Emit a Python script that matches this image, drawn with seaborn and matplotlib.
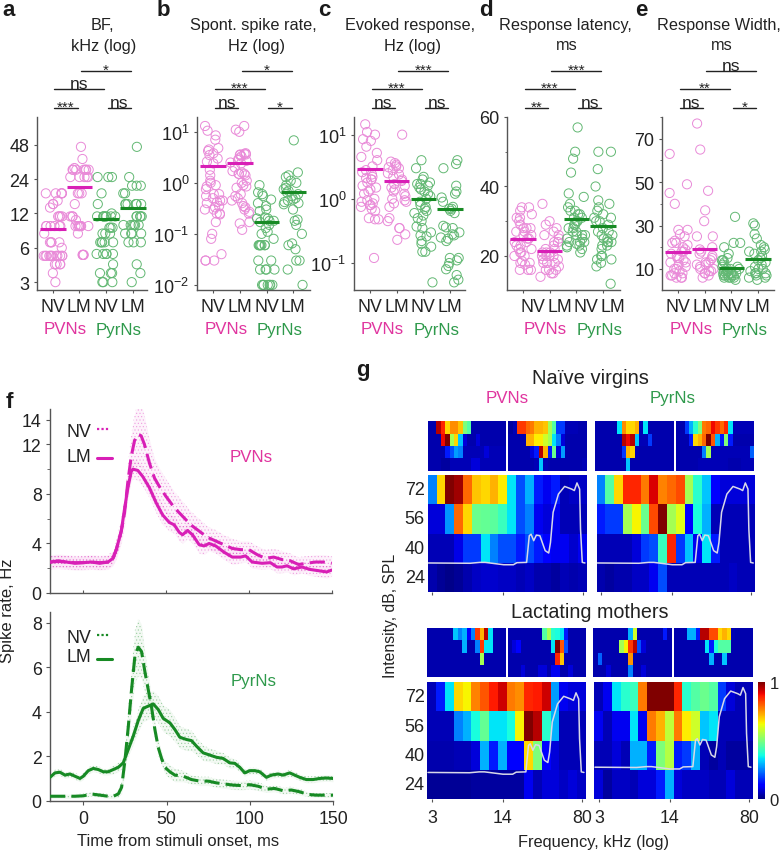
import numpy as np
import pandas as pd
import matplotlib
matplotlib.use("Agg")
import matplotlib.pyplot as plt
from matplotlib.lines import Line2D
from matplotlib.transforms import ScaledTranslation
import seaborn as sns

# ---------- scatter panels ----------
a_pv_nv = [3,3.6,4.3,4.3,4.3,4.3]+[5.1]*12+[6,6.7,6.7,6.7,6.7,8]+[9.3]*6+[11.3]*4+[13.5,14.5,14.5,15.5]+[18]*5
a_pv_lm = [5.2]*4+[8]+[9.3]*8+[10.5,11.3,11.3,11.3,14.5,18,18,18]+[25]*5+[29]*7+[30,36,46]
a_py_nv = [3,3,3,3.6,3.6,3.6,4.3]+[5.3]*5+[6.7]*5+[8,8,8,9,9,9]+[11.3]*8+[12,14.5,18,25,25,25]
a_py_lm = [3,3.6,4.3,6.7,6.7,6.7,8,8,8,8]+[9.5]*6+[11.3]*5+[14.5]*7+[18,18,21,21,21,25,46]
a_means = [8.7,20.6,10.7,13.4]

b_pv_nv = [.03,.03,.03,.04,.08,.1,.17,.24,.25,.25,.3,.3,.33,.35,.4,.42,.45,.45,.5,.55,.6,.6,.75,.85,.9,1,1.1,1.4,1.8,2.4,2.6,3,3.5,3.8,4.2,4.5,4.8,7,8.5,10.5,13]
b_pv_lm = [.12,.16,.17,.25,.27,.3,.33,.35,.4,.45,.5,.55,.6,.8,.85,.9,1.0,1.1,1.4,1.5,1.5,1.5,1.6,1.7,2.0,2.4,2.5,2.7,2.8,3,3.3,3.5,3.6,3.6,3.7,3.8,10,11,13]
b_py_nv = [.01]*7+[.02]*4+[.03,.03]+[.06]*7+[.08,.1,.11,.13,.15,.17,.18,.18,.2,.2,.21,.28,.3,.35,.4,.47,.55,.6,.65,.9]
b_py_lm = [.01,.02,.03,.03,.05,.06,.065,.1,.15,.18,.19,.3,.38,.4,.42,.45,.47,.5,.55,.6,.65,.7,.75,.8,.9,1.0,1.1,1.3,1.4,1.6,6.8]
b_means = [2.1,2.4,.17,.65]

c_pv_nv = [.12,.48,.48,.5,.65,.7,.75,.8,.8,.85,.9,.95,1,1.2,1.3,1.4,1.5,1.6,1.8,2,2,2.1,2.2,2.4,2.6,2.8,3.2,4,4.5,5.2,6.5,8,8.5,10,11,14.5]
c_pv_lm = [.23,.28,.35,.35,.45,.5,.75,.85,.9,.95,1,1.1,1.2,1.3,1.4,1.5,1.6,1.7,1.9,2,2.2,2.4,2.5,2.8,3,3.1,3.2,3.4,3.6,3.8,10]
c_py_nv = [.05,.15,.15,.18,.2,.22,.26,.27,.3,.35,.37,.45,.5,.55,.6,.65,.7,.75,.8,.9,1,1.1,1.2,1.3,1.4,1.5,1.6,1.7,1.7,1.8,2,2.2,3,4]
c_py_lm = [.05,.055,.065,.08,.09,.1,.11,.12,.12,.22,.24,.25,.27,.28,.3,.35,.36,.38,.6,.65,.7,.7,.75,.9,1.05,1.2,1.3,1.6,3,3.5,4]
c_means = [2.9,1.9,1.0,.7]

d_pv_nv = [16,16,16,17.5,18,18,18.5,20,20,21,21,22,22,23,23,24,24,25,25,26,26,27,27,28,28,28,29,30,31,31,32,33,34,34]
d_pv_lm = [14,15,15,16,16,16,17,18,18,18,19,19,20,20,20,20,21,21,21,22,22,23,24,24,25,26,26,27,28,29,30,35]
d_py_nv = [21,22,22.5,23,23,23.5,24,24,24,25,25,26,26,26,27,27,28,28,29,29,30,30,31,31,32,32,33,33,34,35,37,38,44,48,50,57]
d_py_lm = [12,17,18,19,19,20,20,22,23,23,24,24,24,25,25,26,26,27,27,28,29,30,30,31,31,32,33,34,35,36,40,45,50,50]
d_means = [24.8,21.3,30.5,28.5]

e_pv_nv = [6,6,6,7,7,8,8,9,10,10,11,12,13,13,14,15,15,16,17,18,18,19,20,21,22,22,23,25,26,28,28,40,45,49,63]
e_pv_lm = [6,7,8,8,9,9,10,10,11,12,12,13,13,14,15,16,17,18,19,20,25,25,32,37,46,65,77]
e_py_nv = [5,6,6,6,6,7,7,7,7,7,8,8,8,8,9,9,9,10,10,10,11,11,12,13,14,14,15,17,20,22,22,34]
e_py_lm = [5,6,6,7,7,8,8,8,9,10,10,11,12,13,14,15,16,17,18,18,19,20,21,24,26,30,31]
e_means = [18,19,10.5,14.5]

group_ticks = ["NV", "LM", "NV", "LM"]
group_ids = ["PV NV", "PV LM", "Pyr NV", "Pyr LM"]

# ---------- spike-rate curves ----------
t_base = [-20,-15,-10,-5,0,5,10,15]
t_pv_lm = t_base+[18,20,23,25,27,29,30,33,36,40,44,48,52,55,58,60,63,66,70,73,76,80,85,90,95,98,102,108,113,117,120,123,127,132,137,142,147,150]
pv_lm = [2.5,2.6,2.5,2.4,2.45,2.5,2.4,2.5,2.8,3.5,5,6.8,8.5,9.8,10,9.9,9.4,8.5,7.3,6.3,5.7,5.5,4.9,4.7,5.05,4.7,3.9,3.8,4,3.8,3.3,2.9,2.9,3,2.5,2.4,2.45,2.1,2.1,2.2,1.95,2.1,1.9,1.8,1.7,1.85]
t_pv_nv = t_base+[18,20,23,25,27,29,31,33,35,37,40,43,46,50,55,60,65,70,75,80,85,90,95,100,105,110,115,120,125,130,135,140,145,150]
pv_nv = [2.5,2.55,2.5,2.45,2.45,2.5,2.45,2.5,2.8,3.5,5,6.5,9,11,12.3,12.8,12.7,12,10.5,9.3,8.6,7.8,6.9,6.2,5.5,5,4.5,4.2,3.9,3.6,3.5,3.5,3.1,2.8,2.9,2.7,2.6,2.3,2.4,2.5,2.5,2.4]
pv_nv_err = [.6,.6,.6,.6,.6,.6,.6,.6,.6,.8,1,1.2,1.3,1.8,2.2,2.5,2.6,2.3,1.9,1.6,1.5,1.4,1.3,1.2,1.1,1,.9,.9,.8,.8,.7,.7,.7,.7,.7,.7,.6,.6,.6,.6,.6,.6]
pv_lm_err = [.5,.5,.5,.5,.5,.5,.5,.5,.5,.6,.7,.8,.8,.8,.8,.8,.8,.8,.8,.8,.7,.7,.7,.7,.7,.7,.7,.7,.6,.6,.6,.6,.5,.5,.5,.5,.5,.5,.5,.5,.5,.5,.5,.5,.5,.5]

t_py_lm = [-20,-17,-14,-11,-8,-5,-2,0,3,6,9,12,15,18,21,24,27,30,33,36,39,42,45,48,52,55,58,62,65,68,72,76,80,84,88,91,94,97,100,103,106,110,113,117,120,124,127,130,134,138,142,146,150]
py_lm = [1.05,1.25,1.28,1.15,1.2,1.1,1.0,1.1,1.35,1.45,1.4,1.3,1.3,1.4,1.5,1.7,2.3,2.9,3.6,4.15,4.25,4.35,4.1,3.7,3.5,3.2,2.85,2.75,2.7,2.45,2.15,2.05,1.95,1.9,1.7,1.68,1.5,1.25,1.35,1.35,1.3,1.05,1.15,1.2,1.15,1.25,1.15,1.05,.95,.95,1.0,1.02,1.0]
py_lm_err = [.15,.15,.15,.15,.15,.15,.15,.15,.15,.15,.15,.15,.15,.2,.2,.25,.3,.4,.5,.6,.6,.6,.6,.6,.6,.55,.5,.5,.45,.4,.35,.3,.3,.25,.25,.2,.2,.15,.15,.15,.15,.15,.15,.15,.15,.15,.15,.15,.15,.15,.15,.15,.15]
t_py_nv = [-20,-15,-10,-5,0,5,10,15,18,21,23,25,27,29,31,33,35,37,39,41,43,45,47,49,52,55,60,65,70,75,80,85,90,95,100,105,110,115,120,125,130,135,140,150]
py_nv = [.2,.2,.2,.2,.22,.3,.25,.2,.2,.3,.6,1.8,3.3,5,6.5,6.9,6.7,5.8,5,4.2,3.2,2.4,1.9,1.5,1.3,1.15,1.1,.95,.88,.88,.8,.75,.7,.68,.72,.65,.52,.55,.45,.48,.4,.28,.25,.25]
py_nv_err = [.1,.1,.1,.1,.1,.1,.1,.1,.1,.15,.3,.6,.9,1,1.2,1.3,1.2,.9,.7,.5,.4,.35,.3,.3,.3,.3,.25,.2,.2,.2,.2,.2,.2,.2,.2,.2,.15,.15,.15,.15,.15,.1,.1,.1]

# ---------- response maps (percent of maximum, loudest row first) ----------
intensity_db = [72, 56, 40, 24]
nv_pv_large = [[25,68,100,97,80,70,68,72,66,35,20,30,15,10,15,5,6,6],
               [8,8,27,80,68,48,47,46,42,35,20,25,10,8,10,5,5,5],
               [5,5,5,9,18,18,35,25,20,20,15,20,15,12,10,10,7,10],
               [4,2,1,2,4,6,7,7,6,6,5,6,4,4,3,5,4,5]]
nv_py_large = [[25,45,68,87,87,78,92,77,80,83,55,40,32,12,8,8,8,8],
               [15,18,18,55,65,48,83,100,55,62,12,38,30,5,5,5,5,5],
               [5,5,5,5,8,18,20,42,87,18,32,10,35,15,5,5,5,5],
               [4,3,4,4,6,6,10,20,5,5,5,5,5,5,5,6,5,5]]
lm_pv_large = [[5,15,35,68,65,77,82,88,93,78,76,87,88,93,28,10,8,8],
               [5,5,5,25,30,38,47,35,35,38,65,100,95,40,30,5,5,5],
               [4,4,4,5,5,8,30,15,30,12,12,68,50,12,8,5,5,5],
               [2,2,2,2,2,3,3,3,3,3,3,10,5,8,8,6,8,6]]
lm_py_large = [[5,10,35,40,42,78,100,100,100,87,40,45,48,45,18,8,5,5],
               [10,5,10,10,35,10,78,72,58,78,66,60,32,35,5,5,5,5],
               [5,5,8,5,30,30,15,50,57,15,18,30,5,3,5,3,3,3],
               [8,3,6,6,5,8,8,15,30,8,6,6,6,5,5,8,5,5]]
nv_pv_s1 = [[4,4,95,87,68,76,76,70,50,45,4,4,4,4,4,4,4,4],
            [4,4,4,90,100,55,68,32,8,4,4,8,4,4,4,4,4,4],
            [4,4,4,4,15,20,28,25,5,5,5,5,5,8,5,5,5,5],
            [4,4,4,3,3,5,5,5,5,5,8,8,5,5,5,5,5,5]]
nv_pv_s2 = [[3,5,85,85,80,78,72,72,70,55,45,18,18,5,5,5,4,4],
            [4,4,4,4,72,72,66,66,60,55,35,25,8,4,4,4,4,4],
            [4,4,4,4,4,8,15,95,72,15,48,8,28,4,4,4,4,4],
            [4,4,4,4,4,4,5,32,5,4,4,4,4,4,4,4,4,5]]
nv_py_s1 = [[4,4,4,4,4,35,76,68,68,72,5,35,4,4,4,4,4,4],
            [4,4,4,4,4,4,95,90,95,32,5,5,18,4,4,4,4,4],
            [4,4,4,4,4,4,18,72,68,5,4,4,4,4,4,4,4,4],
            [4,4,4,4,4,4,4,32,4,4,4,4,4,4,4,4,4,4]]
nv_py_s2 = [[4,4,18,30,40,50,78,80,90,85,80,87,35,5,5,5,5,5],
            [4,4,4,15,68,72,80,100,82,30,15,50,15,4,4,4,4,4],
            [4,4,4,4,4,4,25,55,5,5,5,5,5,5,5,5,5,22],
            [4,4,4,4,4,5,5,5,5,5,5,5,4,4,4,5,5,5]]
lm_pv_s1 = [[4,4,4,4,4,4,32,25,30,12,25,85,72,95,35,4,4,4],
            [4,4,4,4,4,4,4,4,30,4,4,25,85,35,35,4,4,4],
            [4,4,4,4,4,4,4,4,4,4,4,4,55,4,4,4,4,4],
            [4,4,4,4,4,4,4,4,4,4,4,4,4,4,4,4,4,4]]
lm_pv_s2 = [[4,4,4,4,4,4,4,4,45,55,40,38,35,15,4,4,4,4],
            [4,8,12,4,4,4,4,4,4,4,35,100,82,20,4,4,4,4],
            [4,4,4,4,4,4,4,4,4,4,4,87,70,4,4,4,4,4],
            [4,4,4,8,4,4,4,8,8,4,10,10,4,4,8,4,4,4]]
lm_py_s1 = [[4,4,4,4,4,4,4,4,30,60,4,4,4,4,4,4,15,4],
            [4,4,4,4,4,4,55,65,85,95,20,8,4,4,4,4,4,4],
            [4,22,4,4,4,4,4,4,75,4,4,4,4,4,4,4,4,4],
            [4,4,4,8,4,4,4,4,25,4,4,8,4,4,4,4,4,4]]
lm_py_s2 = [[4,4,4,30,30,15,95,95,83,83,68,72,68,5,4,4,4,4],
            [4,4,4,4,4,4,4,35,15,38,45,45,45,4,4,4,4,4],
            [4,4,4,4,4,4,4,4,30,4,4,32,4,4,4,4,4,4],
            [4,4,4,4,4,4,4,4,4,4,4,4,4,4,4,4,4,4]]

# audiogram overlay, in map columns and map rows
curve_col = [.08,4.8,5.9,6.5,8.6,9.7,10.1,11.2,11.5,11.7,12.0,12.3,12.7,13.3,13.7,13.9,14.2,14.8,15.5,16.3,16.6,16.9,17.2,17.3,17.5,17.8]
curve_row = [3.0,3.01,2.98,2.98,3.06,3.06,2.99,2.98,2.07,2.02,2.24,2.05,2.07,2.58,2.66,2.3,1.27,.65,.39,.48,.53,.27,.48,1.84,2.98,3.0]
freq_labels = ["3", "14", "80"]
freq_cols = [.53, 8.57, 17.6]

# ---------- style ----------
W, H = 783, 853
MAG, MAG_L, MAG_T = "#d81fb6", "#e98ad8", "#e0359f"
GRN, GRN_L, GRN_T = "#178a24", "#62b873", "#2f9a4c"
AX = "#555555"
sns.set_theme(style="ticks")
plt.rcParams["font.family"] = ["Liberation Sans", "DejaVu Sans"]
plt.rcParams["mathtext.default"] = "regular"
plt.rcParams["hatch.linewidth"] = 0.5
plt.rcParams["axes.edgecolor"] = AX
plt.rcParams["xtick.color"] = AX
plt.rcParams["ytick.color"] = AX
plt.rcParams["xtick.labelcolor"] = "#222222"
plt.rcParams["ytick.labelcolor"] = "#222222"
fig = plt.figure(figsize=(W/100, H/100), dpi=100)


def axpx(x0, y0, x1, y1):
    return fig.add_axes([x0/W, 1-y1/H, (x1-x0)/W, (y1-y0)/H])


def txt(x, y, s, size=11.8, color="#222222", **kw):
    kw.setdefault("ha", "center")
    kw.setdefault("va", "center")
    fig.text(x/W, 1-y/H, s, fontsize=size, color=color, **kw)


def scatter_panel(box, tick0, step, groups, means, ylim, log=False, yticks=None, ylabels=None,
                  minor=None, sig=(), title=(), title_x=(), letter="", letter_x=0, tick_shift=0, group_x=()):
    x0, y0, x1, y1 = box
    ax = axpx(*box)
    if log:
        ax.set_yscale("log")
    df = pd.DataFrame({"group": [g for g, v in zip(group_ids, groups) for _ in v],
                       "value": [u for v in groups for u in v]})
    sns.stripplot(data=df, x="group", y="value", order=group_ids, ax=ax, size=6.6, jitter=.36,
                  linewidth=.7, color="w", zorder=2)
    for i, coll in enumerate(ax.collections):
        coll.set_facecolor("none")
        coll.set_edgecolor(MAG_L if i < 2 else GRN_L)
    ax.hlines(means, np.arange(4)-.48, np.arange(4)+.48, colors=[MAG, MAG, GRN, GRN], lw=2.2, zorder=3)
    ax.set_xlim((x0-tick0)/step, (x1-tick0)/step)
    ax.set_ylim(*ylim)
    ax.set_xlabel("")
    ax.set_ylabel("")
    ax.set_xticks(range(4))
    ax.set_xticklabels(group_ticks, fontsize=12.8)
    ax.set_yticks(yticks)
    ax.set_yticklabels(ylabels, fontsize=13)
    ax.yaxis.set_minor_formatter(matplotlib.ticker.NullFormatter())
    if minor is not None:
        ax.set_yticks(minor, minor=True)
    else:
        ax.minorticks_off()
    ax.tick_params(axis="both", length=2.5, width=.8, pad=3)
    ax.tick_params(axis="x", pad=3)
    ax.tick_params(which="minor", length=1.5, width=.6)
    if tick_shift:
        for lab in ax.get_xticklabels():
            lab.set_transform(lab.get_transform()+ScaledTranslation(tick_shift/100, 0, fig.dpi_scale_trans))
    sns.despine(ax=ax)
    for sp in ax.spines.values():
        sp.set_linewidth(1)
    trans = ax.get_xaxis_transform()
    span = [(0, 1, 109), (2, 3, 109), (0, 2, 90), (1, 3, 72)]
    for (a, b, yy), s in zip(span, sig):
        f = (y1-yy)/(y1-y0)
        ax.plot([a+.06, b-.06], [f, f], transform=trans, clip_on=False, color="#222222", lw=1)
        off = -2 if "*" in s else 1
        ax.annotate(s, xy=((a+b)/2, f), xycoords=trans, xytext=(0, off), textcoords="offset points",
                    ha="center", va="baseline", fontsize=11 if "*" in s else 12.5, color="#222222")
    for s, xx, yy in zip(title, title_x, (25.7, 46)):
        txt(xx, yy, s, 11.7)
    txt(letter_x, 11, letter, 16, color="k", fontweight="bold")
    txt(group_x[0], 330, "PVNs", 12.2, MAG_T)
    txt(group_x[1], 330, "PyrNs", 12.2, GRN_T)


pow_lab = lambda k: rf"$\mathdefault{{10^{{{k}}}}}$"
scatter_panel((37, 118, 147, 291), 52.7, 26.67, [a_pv_nv, a_pv_lm, a_py_nv, a_py_lm], a_means, (2.56, 84), log=True,
              yticks=[3, 6, 12, 24, 48], ylabels=["3", "6", "12", "24", "48"], sig=["***", "ns", "ns", "*"],
              title=["BF,", "kHz (log)"], title_x=[102, 104], letter="a", letter_x=9, group_x=[65, 119])
scatter_panel((197, 118, 310, 291), 213.3, 26.67, [b_pv_nv, b_pv_lm, b_py_nv, b_py_lm], b_means, (10**-2.1, 10**1.29), log=True,
              yticks=[.01, .1, 1, 10], ylabels=[pow_lab(-2), pow_lab(-1), pow_lab(0), pow_lab(1)], sig=["ns", "*", "***", "*"],
              title=["Spont. spike rate,", "Hz (log)"], title_x=[253, 257], letter="b", letter_x=163, group_x=[226, 280])
scatter_panel((354, 118, 465, 291), 370, 26.67, [c_pv_nv, c_pv_lm, c_py_nv, c_py_lm], c_means, (10**-1.42, 10**1.275), log=True,
              yticks=[.1, 1, 10], ylabels=[pow_lab(-1), pow_lab(0), pow_lab(1)], sig=["ns", "ns", "***", "***"],
              title=["Evoked response,", "Hz (log)"], title_x=[410, 413], letter="c", letter_x=324, group_x=[382, 437])
scatter_panel((507, 118, 620, 291), 523, 26.67, [d_pv_nv, d_pv_lm, d_py_nv, d_py_lm], d_means, (10.2, 60),
              yticks=[20, 40, 60], ylabels=["20", "40", "60"], minor=[30, 50], sig=["**", "ns", "***", "***"],
              title=["Response latency,", "ms"], title_x=[565, 567], letter="d", letter_x=486, tick_shift=10, group_x=[545, 600])
scatter_panel((662, 118, 774, 291), 678, 26.67, [e_pv_nv, e_pv_lm, e_py_nv, e_py_lm], e_means, (.3, 80),
              yticks=[10, 30, 50, 70], ylabels=["10", "30", "50", "70"], minor=[20, 40, 60, 80], sig=["ns", "*", "**", "ns"],
              title=["Response Width,", "ms"], title_x=[719, 722], letter="e", letter_x=641, group_x=[691, 745])


# ---------- panel f ----------
def trace(ax, t, y, err, color, dash):
    y, err, t = np.array(y), np.array(err), np.array(t)
    ax.fill_between(t, y-err, y+err, facecolor=color, alpha=.05, lw=0, zorder=1)
    ax.fill_between(t, y-err, y+err, facecolor="none", edgecolor=color, hatch=".....", lw=0, alpha=.3, zorder=1)
    sns.lineplot(x=t, y=y, ax=ax, color=color, lw=2.2, zorder=3, errorbar=None,
                 linestyle=(0, (5, 2)) if dash else "-")


ax1 = axpx(50, 410, 331.7, 594)
trace(ax1, t_pv_nv, pv_nv, pv_nv_err, MAG, True)
trace(ax1, t_pv_lm, pv_lm, pv_lm_err, MAG, False)
ax1.set_xlim(-20, 150)
ax1.set_ylim(0, 14.86)
ax1.set_xticks([0, 50, 100, 150])
ax1.set_xticklabels([])
ax1.set_yticks([0, 4, 8, 12, 14])
ax1.set_yticks([2, 6, 10], minor=True)
ax1.tick_params(axis="y", labelsize=12.8, length=3, width=.8, pad=3)
ax1.tick_params(axis="y", which="minor", length=2, width=.6)
ax1.tick_params(axis="x", direction="in", length=2, width=.8)

ax2 = axpx(50, 613, 333, 801.7)
trace(ax2, t_py_lm, py_lm, py_lm_err, GRN, False)
trace(ax2, t_py_nv, py_nv, py_nv_err, GRN, True)
ax2.set_xlim(-20, 150)
ax2.set_ylim(0, 8.48)
ax2.set_xticks([0, 50, 100, 150])
ax2.set_yticks([0, 2, 4, 6, 8])
ax2.tick_params(axis="both", labelsize=12.8, length=3, width=.8, pad=3)
ax2.tick_params(axis="x", pad=4)
for ax in (ax1, ax2):
    ax.set_xlabel("")
    ax.set_ylabel("")
    sns.despine(ax=ax)
    for sp in ax.spines.values():
        sp.set_linewidth(1)

txt(79, 433, "NV", 12.8)
txt(79, 457, "LM", 12.8)
txt(79, 639, "NV", 12.8)
txt(79, 658, "LM", 12.8)
for (xa, xb, yy, col, lw, ls) in [(97, 109, 430, MAG, 1.6, (0, (1, 1))), (97, 112, 459, MAG, 2.2, "-"),
                                  (97, 109, 636, GRN, 1.6, (0, (1, 1))), (97, 112, 660, GRN, 2.2, "-")]:
    fig.add_artist(Line2D([xa/W, xb/W], [1-yy/H, 1-yy/H], color=col, lw=lw, ls=ls))
txt(251, 457, "PVNs", 12.2, MAG_T)
txt(254, 682, "PyrNs", 12.2, GRN_T)
txt(8, 611, "Spike rate, Hz", 12, rotation=90)
txt(178, 842, "Time from stimuli onset, ms", 11.9)
txt(9, 403, "f", 16, color="k", fontweight="bold")
txt(363, 371, "g", 16, color="k", fontweight="bold")


# ---------- panel g ----------
def small_map(box, rows):
    ax = axpx(*box)
    sns.heatmap(np.array(rows)/100, ax=ax, cmap="jet", vmin=0, vmax=1, cbar=False,
                xticklabels=False, yticklabels=False)
    return ax


def large_map(box, rows, dy=0, left=False, bottom=False, cbar_ax=None):
    ax = axpx(*box)
    sns.heatmap(np.array(rows)/100, ax=ax, cmap="jet", vmin=0, vmax=1, cbar=cbar_ax is not None, cbar_ax=cbar_ax,
                xticklabels=False, yticklabels=intensity_db if left else False,
                cbar_kws={"ticks": [0, 1]} if cbar_ax is not None else None)
    sns.lineplot(x=curve_col, y=np.array(curve_row)+dy, ax=ax, color="#d8d8e8", lw=1.1, errorbar=None,
                 estimator=None, sort=False)
    ax.set_xlim(0, 18)
    ax.set_ylim(4, 0)
    ax.set_xlabel("")
    ax.set_ylabel("")
    ax.set_xticks(freq_cols)
    ax.set_xticklabels(freq_labels if bottom else [], fontsize=12.8)
    ax.tick_params(axis="x", length=2.5, width=.8, pad=5)
    ax.tick_params(axis="y", length=0, pad=2, labelsize=13, labelrotation=0)
    return ax


small_map((427.7, 422.3, 506.3, 471.7), nv_pv_s1)
small_map((508.3, 422.3, 586.7, 471.7), nv_pv_s2)
small_map((595.3, 422.3, 674, 471.7), nv_py_s1)
small_map((676, 422.3, 754.3, 471.7), nv_py_s2)
large_map((427.7, 476, 586.7, 593.3), nv_pv_large, left=True)
large_map((596.7, 476, 755, 593.3), nv_py_large)
small_map((427.3, 629, 505.7, 678.3), lm_pv_s1)
small_map((507.7, 629, 585.7, 678.3), lm_pv_s2)
small_map((593.3, 629, 671.7, 678.3), lm_py_s1)
small_map((674.3, 629, 752.7, 678.3), lm_py_s2)
large_map((427.3, 683.3, 585.7, 800), lm_pv_large, dy=.09, left=True, bottom=True)
cax = axpx(757.7, 683.3, 765.3, 800)
large_map((594.3, 683.3, 752.7, 800), lm_py_large, dy=-.09, bottom=True, cbar_ax=cax)
cax.tick_params(length=0, pad=3, labelsize=12)
for sp in cax.spines.values():
    sp.set_visible(False)

txt(590, 379, "Naïve virgins", 14.5)
txt(590, 613, "Lactating mothers", 14.2)
txt(506.7, 399, "PVNs", 12.2, MAG_T)
txt(673, 399, "PyrNs", 12.2, GRN_T)
txt(390, 616, "Intensity, dB, SPL", 11.3, rotation=90)
txt(593, 842.7, "Frequency, kHz (log)", 11.8)

fig.savefig("out.png", dpi=100, facecolor="white")
